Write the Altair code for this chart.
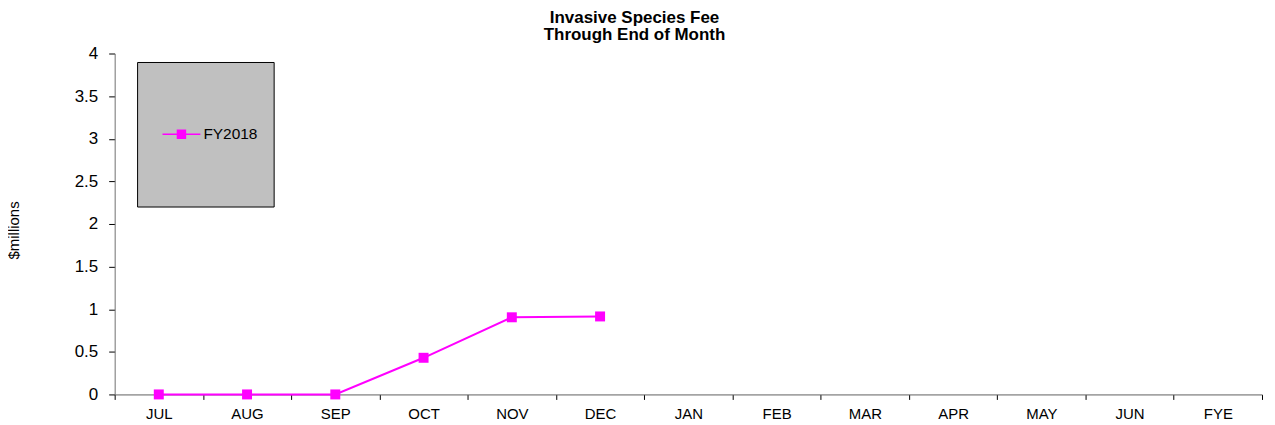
import altair as alt
import pandas as pd

months = ["JUL", "AUG", "SEP", "OCT", "NOV", "DEC", "JAN", "FEB", "MAR", "APR", "MAY", "JUN", "FYE"]
fy2018 = [0.0, 0.0, 0.0, 0.43, 0.905, 0.915, None, None, None, None, None, None, None]
series_name = "FY2018"
y_ticks = [0, 0.5, 1, 1.5, 2, 2.5, 3, 3.5, 4]

df = pd.DataFrame({"month": months, "value": fy2018, "series": [series_name] * len(months)})

FONT = "Liberation Sans"
MAGENTA = "#FF00FF"

box = alt.Chart(alt.Data(values=[{}])).mark_rect(
    fill="#C0C0C0", stroke="#000000", strokeWidth=1
).encode(
    x=alt.value(23), x2=alt.value(160), y=alt.value(9), y2=alt.value(154)
)

line = alt.Chart(df).mark_line(
    strokeWidth=2,
    point=alt.OverlayMarkDef(shape="square", size=100, filled=True, color=MAGENTA, opacity=1),
).encode(
    x=alt.X(
        "month:N",
        sort=months,
        bandPosition=0.5,
        scale=alt.Scale(type="band", domain=months, paddingInner=0, paddingOuter=0),
        axis=alt.Axis(
            title=None,
            labelAngle=0,
            tickBand="extent",
            tickSize=5,
            labelPadding=7,
            labelFontSize=15,
            labelFont=FONT,
            labelColor="#000000",
            domainColor="#606060",
            tickColor="#000000",
            grid=False,
        ),
    ),
    y=alt.Y(
        "value:Q",
        scale=alt.Scale(domain=[0, 4], nice=False, zero=True),
        axis=alt.Axis(
            title="$millions",
            values=y_ticks,
            format="~g",
            tickSize=6,
            labelPadding=11,
            labelFontSize=17,
            labelFont=FONT,
            labelColor="#000000",
            domainColor="#707070",
            tickColor="#000000",
            grid=False,
            titleFont=FONT,
            titleFontSize=15,
            titleFontWeight="normal",
            titleColor="#000000",
            titleX=-101,
            titleY=177,
            titleBaseline="middle",
        ),
    ),
    color=alt.Color(
        "series:N",
        scale=alt.Scale(domain=[series_name], range=[MAGENTA]),
        legend=alt.Legend(
            title=None,
            orient="none",
            legendX=47,
            legendY=61,
            padding=0,
            labelFont=FONT,
            labelFontSize=15.5,
            labelColor="#000000",
            labelOffset=2,
            symbolType="M-1,0H1M-0.21,-0.21H0.21V0.21H-0.21Z",
            symbolSize=1444,
            symbolStrokeWidth=1.5,
            symbolFillColor=MAGENTA,
            symbolStrokeColor=MAGENTA,
        ),
    ),
)

chart = alt.layer(box, line).properties(
    width=1151,
    height=342,
    background="#FFFFFF",
    padding={"left": 107, "top": 45, "right": 5, "bottom": 27},
    autosize=alt.AutoSizeParams(type="none"),
    title=alt.TitleParams(
        text=["Invasive Species Fee", "Through End of Month"],
        font=FONT,
        fontSize=17,
        fontWeight="bold",
        color="#000000",
        lineHeight=17,
        anchor="middle",
        frame="group",
        baseline="bottom",
        offset=10,
        dx=-54,
        dy=26,
    ),
).configure_view(stroke=None, strokeWidth=0)

chart.save("out.html", embed_options={"renderer": "svg", "actions": False})
